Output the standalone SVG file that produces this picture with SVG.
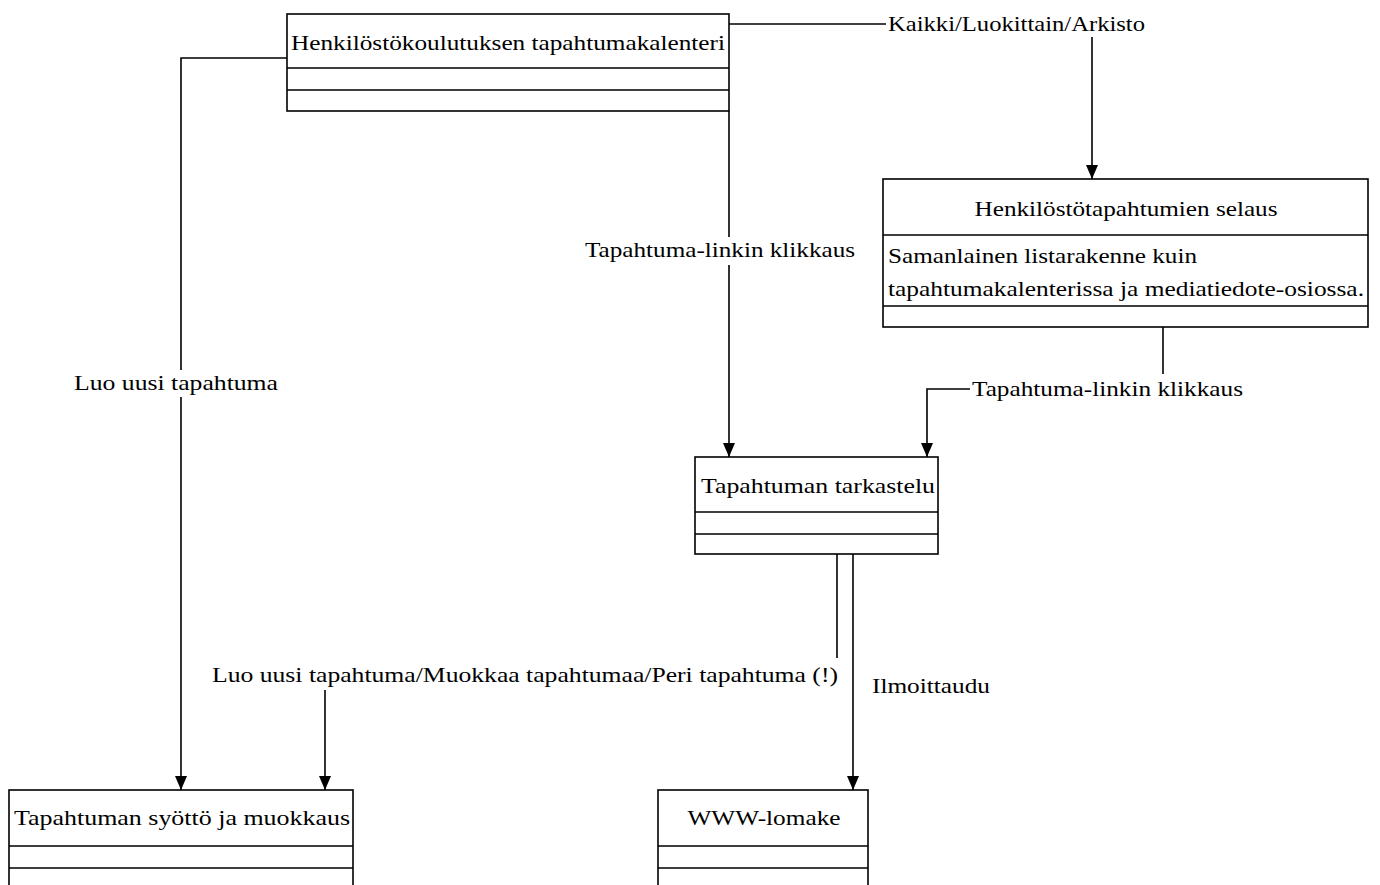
<svg xmlns="http://www.w3.org/2000/svg" width="1380" height="885" viewBox="0 0 1380 885">
<defs>
<marker id="arr" markerWidth="14" markerHeight="12" refX="14" refY="6" orient="auto" markerUnits="userSpaceOnUse" viewBox="0 0 14 12">
<path d="M0,0 L14,6 L0,12 Z" fill="#000"/>
</marker>
<style>
.box{fill:#fff;stroke:#000;stroke-width:1.6}
.ln{fill:none;stroke:#000;stroke-width:1.6}
.con{fill:none;stroke:#000;stroke-width:1.6}
text{font-family:"Liberation Serif","Times New Roman",serif;font-size:22px;fill:#000}
.c{text-anchor:middle}
</style>
</defs>
<rect width="1380" height="885" fill="#fff"/>
<g id="connectors">
<path class="con" d="M287,58 H181 V370"/>
<path class="con" d="M181,397 V790" marker-end="url(#arr)"/>
<path class="con" d="M729,24 H886"/>
<path class="con" d="M1092,37 V179" marker-end="url(#arr)"/>
<path class="con" d="M729,111 V237"/>
<path class="con" d="M729,265 V457" marker-end="url(#arr)"/>
<path class="con" d="M1163,327 V374"/>
<path class="con" d="M970,389 H927 V457" marker-end="url(#arr)"/>
<path class="con" d="M837,554 V658"/>
<path class="con" d="M325,690 V790" marker-end="url(#arr)"/>
<path class="con" d="M853,554 V790" marker-end="url(#arr)"/>
</g>
<g id="labels">
<text x="888" y="31" textLength="257" lengthAdjust="spacingAndGlyphs">Kaikki/Luokittain/Arkisto</text>
<text x="176" y="390" class="c" textLength="204" lengthAdjust="spacingAndGlyphs">Luo uusi tapahtuma</text>
<text x="720" y="257" class="c" textLength="270" lengthAdjust="spacingAndGlyphs">Tapahtuma-linkin klikkaus</text>
<text x="972" y="396" textLength="271" lengthAdjust="spacingAndGlyphs">Tapahtuma-linkin klikkaus</text>
<text x="212" y="682" textLength="626" lengthAdjust="spacingAndGlyphs">Luo uusi tapahtuma/Muokkaa tapahtumaa/Peri tapahtuma (!)</text>
<text x="872" y="693" textLength="118" lengthAdjust="spacingAndGlyphs">Ilmoittaudu</text>
</g>
<g id="node-kalenteri">
<rect class="box" x="287" y="14" width="442" height="97"/>
<path class="ln" d="M287,68 H729 M287,90 H729"/>
<text x="508" y="50" class="c" textLength="434" lengthAdjust="spacingAndGlyphs">Henkilöstökoulutuksen tapahtumakalenteri</text>
</g>
<g id="node-selaus">
<rect class="box" x="883" y="179" width="485" height="148"/>
<path class="ln" d="M883,235 H1368 M883,306 H1368"/>
<text x="1126" y="216" class="c" textLength="303" lengthAdjust="spacingAndGlyphs">Henkilöstötapahtumien selaus</text>
<text x="888" y="263" textLength="309" lengthAdjust="spacingAndGlyphs">Samanlainen listarakenne kuin</text>
<text x="888" y="296" textLength="476" lengthAdjust="spacingAndGlyphs">tapahtumakalenterissa ja mediatiedote-osiossa.</text>
</g>
<g id="node-tarkastelu">
<rect class="box" x="695" y="457" width="243" height="97"/>
<path class="ln" d="M695,512 H938 M695,534 H938"/>
<text x="818" y="493" class="c" textLength="234" lengthAdjust="spacingAndGlyphs">Tapahtuman tarkastelu</text>
</g>
<g id="node-syotto">
<rect class="box" x="9" y="790" width="344" height="100"/>
<path class="ln" d="M9,846 H353 M9,868 H353"/>
<text x="182" y="825" class="c" textLength="336" lengthAdjust="spacingAndGlyphs">Tapahtuman syöttö ja muokkaus</text>
</g>
<g id="node-lomake">
<rect class="box" x="658" y="790" width="210" height="100"/>
<path class="ln" d="M658,846 H868 M658,868 H868"/>
<text x="764" y="825" class="c" textLength="153" lengthAdjust="spacingAndGlyphs">WWW-lomake</text>
</g>
</svg>
